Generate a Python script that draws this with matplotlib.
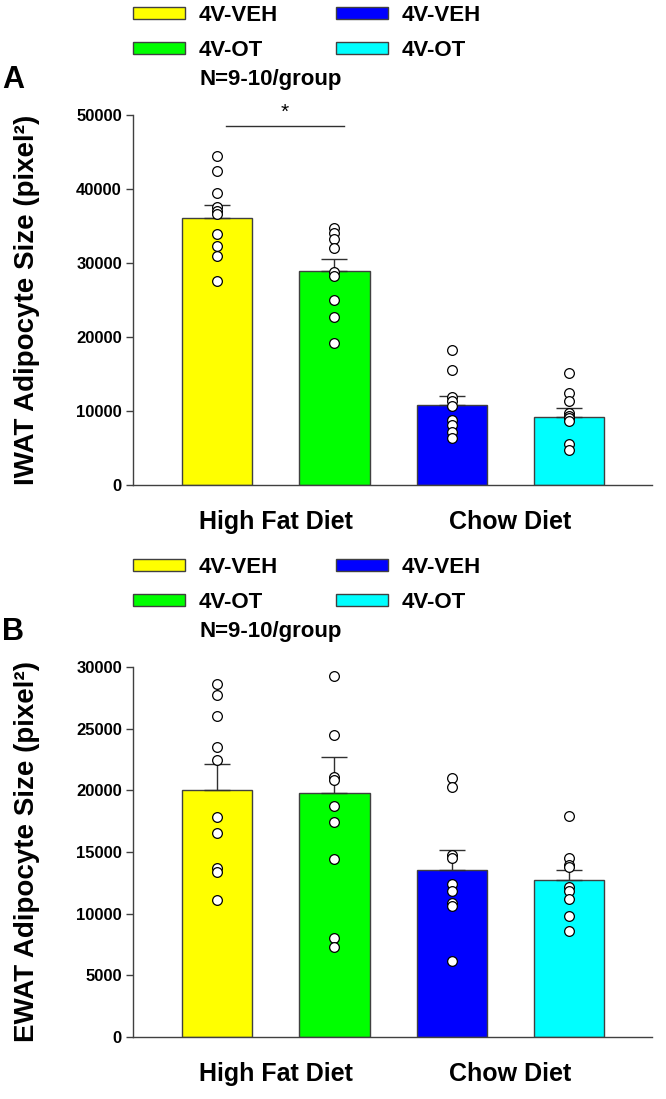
import matplotlib
matplotlib.use("Agg")
import matplotlib.pyplot as plt
from matplotlib.patches import Patch
import numpy as np

plt.rcParams['font.family'] = ['Liberation Sans', 'DejaVu Sans']
plt.rcParams['font.weight'] = 'bold'

# groups / colours
groups = ["4V-VEH", "4V-OT", "4V-VEH", "4V-OT"]
barColors = ["#FFFF00", "#00FF00", "#0000FF", "#00FFFF"]
dietLabels = ["High Fat Diet", "Chow Diet"]

# IWAT (panel A)
iwatMean = [36100, 28900, 10800, 9250]
iwatSem = [1740, 1660, 1260, 1130]
iwatPoints = [
    [44500, 42500, 39400, 37600, 37000, 36600, 33900, 32300, 30900, 27600],
    [34700, 34000, 33200, 32000, 28800, 28200, 25000, 22700, 19200],
    [18200, 15500, 11900, 11400, 10700, 8800, 8100, 7200, 6300],
    [15100, 12400, 11400, 9700, 9300, 9100, 8600, 5600, 4700],
]

# EWAT (panel B)
ewatMean = [20050, 19820, 13580, 12720]
ewatSem = [2090, 2920, 1560, 850]
ewatPoints = [
    [28650, 27700, 26000, 23550, 22450, 17800, 16550, 13700, 13350, 11100],
    [29300, 24450, 21100, 20800, 18750, 17450, 14450, 8000, 7300],
    [21000, 20300, 14750, 14500, 12400, 11800, 10900, 10600, 6200],
    [17900, 14550, 13950, 13800, 12150, 11850, 11200, 9800, 8600],
]

W, H = 666, 1099
fig = plt.figure(figsize=(W / 100, H / 100), dpi=100)

axL, axR = 133 / W, 652 / W
axA = fig.add_axes([axL, 1 - 485 / H, axR - axL, 370 / H])
axB = fig.add_axes([axL, 1 - 1037 / H, axR - axL, 370 / H])

edgeGray = "#404040"
xpos = np.arange(4)


def drawPanel(ax, means, sems, points, ylim, ystep, ylabel, letter):
    ax.bar(xpos, means, width=0.6, color=barColors, edgecolor=edgeGray, linewidth=1, zorder=2)
    ax.errorbar(xpos, means, yerr=[np.zeros(4), sems], fmt='none', ecolor="#303030",
                elinewidth=1, capsize=9.5, capthick=1, zorder=3)
    for i, pts in enumerate(points):
        ax.plot(np.full(len(pts), xpos[i]), pts, 'o', markersize=7, markerfacecolor='white',
                markeredgecolor='black', markeredgewidth=0.9, linestyle='', zorder=4, clip_on=False)

    ax.set_xlim(-0.715, 3.706)
    ax.set_ylim(ylim)
    ticks = np.arange(0, ylim[1] + 1, ystep)
    ax.set_yticks(ticks)
    ax.set_yticklabels([str(int(v)) for v in ticks], fontsize=12, fontweight='bold')
    ax.tick_params(axis='y', direction='out', length=5, width=1, color=edgeGray, pad=3)
    ax.set_xticks([0.5, 2.5])
    ax.set_xticklabels(dietLabels, fontsize=18, fontweight='bold')
    ax.tick_params(axis='x', length=0, pad=18)

    for s in ['top', 'right']:
        ax.spines[s].set_visible(False)
    for s in ['left', 'bottom']:
        ax.spines[s].set_color(edgeGray)
        ax.spines[s].set_linewidth(1)

    ax.set_ylabel(ylabel, fontsize=20, fontweight='bold')
    ax.yaxis.set_label_coords(-0.18, 0.5)

    handles = [Patch(facecolor=c, edgecolor=edgeGray, linewidth=1) for c in barColors]
    ax.legend(handles, groups, loc='upper left', bbox_to_anchor=(0.0, 1.298), ncol=2,
              frameon=False, borderpad=0, borderaxespad=0, handlelength=2.35, handleheight=0.45,
              handletextpad=0.6, columnspacing=2.6, labelspacing=0.62,
              prop={'size': 16, 'weight': 'bold'})
    ax.text(0.129, 1.095, "N=9-10/group", transform=ax.transAxes, fontsize=16,
            fontweight='bold', ha='left', va='center')
    ax.text(-0.252, 1.095, letter, transform=ax.transAxes, fontsize=22,
            fontweight='bold', ha='left', va='center')


drawPanel(axA, iwatMean, iwatSem, iwatPoints, (0, 50000), 10000,
          "IWAT Adipocyte Size (pixel\u00b2)", "A")
drawPanel(axB, ewatMean, ewatSem, ewatPoints, (0, 30000), 5000,
          "EWAT Adipocyte Size (pixel\u00b2)", "B")

# significance bar, HFD VEH vs OT
axA.plot([0.08, 1.08], [48500, 48500], color="#303030", linewidth=1, clip_on=False)
axA.text(0.58, 50300, "*", ha='center', va='center', fontsize=15, fontweight='normal')

fig.savefig("out.png", dpi=100)
